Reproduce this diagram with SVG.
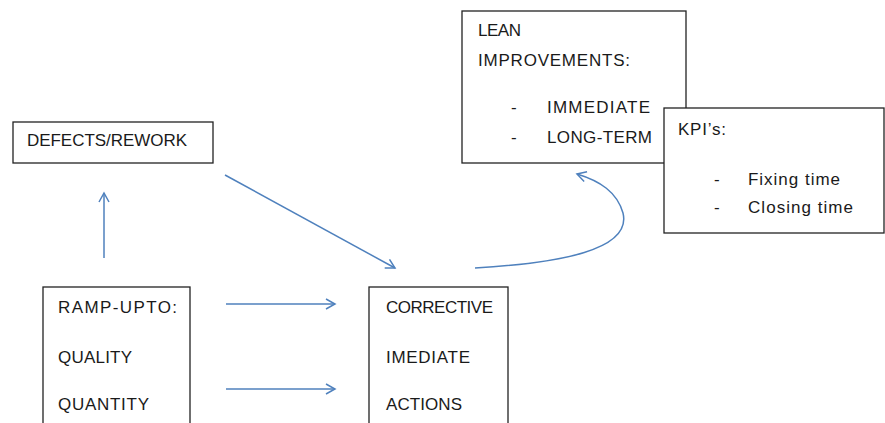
<svg xmlns="http://www.w3.org/2000/svg" width="885" height="423" viewBox="0 0 885 423">
<style>
.box{fill:#fff;stroke:#222;stroke-width:1.3}
.t{font-family:"Liberation Sans",Arial,sans-serif;font-size:17px;fill:#1a1a1a}
.c{fill:none;stroke:#4f81bd;stroke-width:1.5}
</style>
<defs>
<marker id="ah" markerUnits="userSpaceOnUse" markerWidth="14" markerHeight="14" refX="10" refY="6" viewBox="0 0 14 12" orient="auto">
<path d="M1,1 L10,6 L1,11" fill="none" stroke="#4f81bd" stroke-width="1.5"/>
</marker>
</defs>
<rect width="885" height="423" fill="#fff"/>
<g id="connectors">
<line class="c" x1="104" y1="258" x2="104" y2="193" marker-end="url(#ah)"/>
<line class="c" x1="226" y1="304" x2="335" y2="304" marker-end="url(#ah)"/>
<line class="c" x1="226" y1="389" x2="335" y2="389" marker-end="url(#ah)"/>
<line class="c" x1="225" y1="175" x2="395" y2="268" marker-end="url(#ah)"/>
<path class="c" d="M475,268 C560,263 632,250 623,213 C617,192 600,181 577,174" marker-end="url(#ah)"/>
</g>
<g id="defects">
<rect class="box" x="13" y="122" width="200" height="41"/>
<text class="t" x="27" y="146" textLength="160" lengthAdjust="spacing">DEFECTS/REWORK</text>
</g>
<g id="rampup">
<rect class="box" x="43" y="287" width="147" height="140"/>
<text class="t" x="58" y="313" textLength="119" lengthAdjust="spacing">RAMP-UPTO:</text>
<text class="t" x="58" y="363" textLength="74" lengthAdjust="spacing">QUALITY</text>
<text class="t" x="58" y="410" textLength="91" lengthAdjust="spacing">QUANTITY</text>
</g>
<g id="corrective">
<rect class="box" x="369" y="287" width="139" height="140"/>
<text class="t" x="386" y="313" textLength="107" lengthAdjust="spacing">CORRECTIVE</text>
<text class="t" x="386" y="363" textLength="84" lengthAdjust="spacing">IMEDIATE</text>
<text class="t" x="386" y="410" textLength="76" lengthAdjust="spacing">ACTIONS</text>
</g>
<g id="lean">
<rect class="box" x="462" y="11" width="224" height="152"/>
<text class="t" x="478" y="36" textLength="43" lengthAdjust="spacing">LEAN</text>
<text class="t" x="478" y="66" textLength="152" lengthAdjust="spacing">IMPROVEMENTS:</text>
<text class="t" x="511" y="113">-</text>
<text class="t" x="547" y="113" textLength="103" lengthAdjust="spacing">IMMEDIATE</text>
<text class="t" x="511" y="143">-</text>
<text class="t" x="547" y="143" textLength="105" lengthAdjust="spacing">LONG-TERM</text>
</g>
<g id="kpis">
<rect class="box" x="664" y="108" width="220" height="125"/>
<text class="t" x="678" y="135" textLength="48" lengthAdjust="spacing">KPI’s:</text>
<text class="t" x="714" y="185">-</text>
<text class="t" x="748" y="185" textLength="92" lengthAdjust="spacing">Fixing time</text>
<text class="t" x="714" y="213">-</text>
<text class="t" x="748" y="213" textLength="105" lengthAdjust="spacing">Closing time</text>
</g>
</svg>
